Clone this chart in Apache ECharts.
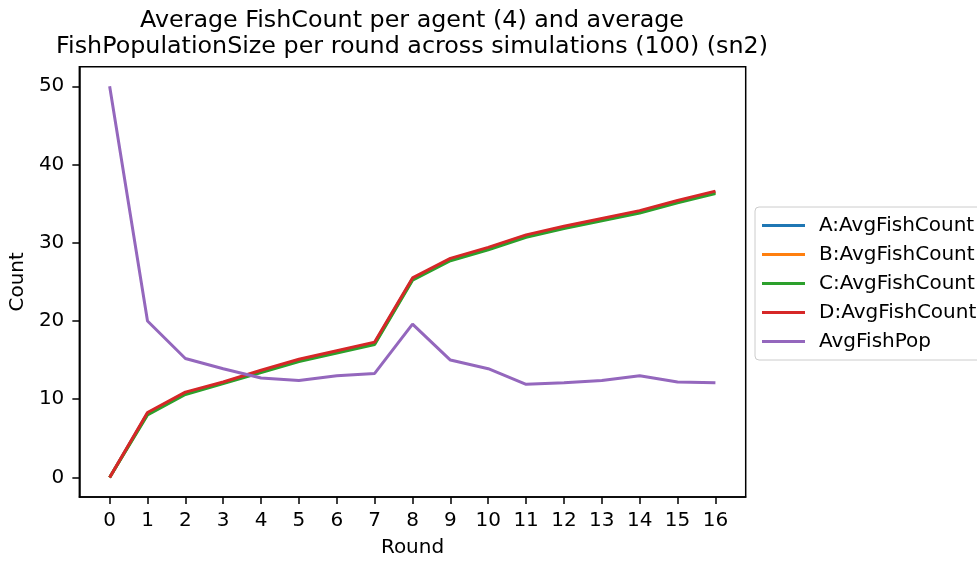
<!DOCTYPE html>
<html>
<head>
<meta charset="utf-8">
<script src="https://cdn.jsdelivr.net/npm/echarts@6/dist/echarts.min.js"></script>
<style>
  html, body { margin: 0; padding: 0; background: #fff; }
  #chart { width: 977px; height: 563px; }
</style>
</head>
<body>
<div id="chart"></div>
<script>
// Rounds 0..16
const rounds = [0, 1, 2, 3, 4, 5, 6, 7, 8, 9, 10, 11, 12, 13, 14, 15, 16];

// Average fish count per agent
const agentA = [0, 8.2, 10.8, 12.1, 13.6, 15.0, 16.1, 17.2, 25.4, 27.9, 29.3, 30.9, 32.0, 33.0, 34.0, 35.3, 36.5];
const agentB = [0, 8.1, 10.7, 12.1, 13.5, 14.9, 16.0, 17.1, 25.3, 27.8, 29.2, 30.8, 31.9, 32.9, 33.9, 35.2, 36.4];
const agentC = [0, 8.0, 10.6, 12.0, 13.4, 14.8, 15.9, 17.0, 25.2, 27.7, 29.1, 30.7, 31.8, 32.8, 33.8, 35.1, 36.3];
const agentD = [0, 8.3, 10.9, 12.2, 13.7, 15.1, 16.2, 17.3, 25.5, 28.0, 29.4, 31.0, 32.1, 33.1, 34.1, 35.4, 36.6];

// Average fish population size
const fishPop = [50, 20.0, 15.2, 13.9, 12.7, 12.4, 13.0, 13.3, 19.6, 15.0, 13.9, 11.9, 12.1, 12.4, 13.0, 12.2, 12.1];

const seriesNames = ['A:AvgFishCount', 'B:AvgFishCount', 'C:AvgFishCount', 'D:AvgFishCount', 'AvgFishPop'];
const seriesColors = ['#1f77b4', '#ff7f0e', '#2ca02c', '#d62728', '#9467bd'];
const seriesValues = [agentA, agentB, agentC, agentD, fishPop];

const yTicks = [0, 10, 20, 30, 40, 50];

const FONT = 'DejaVu Sans';

const chart = echarts.init(document.getElementById('chart'), null, { renderer: 'canvas' });

chart.setOption({
  animation: false,
  backgroundColor: '#ffffff',
  textStyle: { fontFamily: FONT },
  title: {
    text: 'Average FishCount per agent (4) and average\nFishPopulationSize per round across simulations (100) (sn2)',
    left: 407,
    textAlign: 'center',
    top: 3,
    textStyle: { fontFamily: FONT, fontSize: 23.8, fontWeight: 'normal', color: '#000', lineHeight: 26 }
  },
  legend: {
    orient: 'vertical',
    left: 755,
    top: 207,
    data: seriesNames.map(n => ({ name: n, icon: 'rect' })),
    itemWidth: 43,
    itemHeight: 3,
    itemGap: 7,
    padding: [7.5, 40, 7.5, 7],
    borderColor: '#cccccc',
    borderWidth: 1,
    borderRadius: 4,
    backgroundColor: '#ffffff',
    textStyle: { fontFamily: FONT, fontSize: 20, color: '#000', lineHeight: 22, padding: [0, 0, 0, 9] }
  },
  grid: {
    left: 78.7,
    right: 231.3,
    top: 66.7,
    bottom: 62.7,
    show: true,
    borderColor: '#000',
    borderWidth: 1.5,
    containLabel: false
  },
  xAxis: {
    type: 'value',
    min: -0.8,
    max: 16.8,
    name: 'Round',
    nameLocation: 'middle',
    nameGap: 41,
    nameTextStyle: { fontFamily: FONT, fontSize: 20, color: '#000' },
    splitLine: { show: false },
    axisLine: { show: true, onZero: false, lineStyle: { color: '#000', width: 1.5 } },
    axisTick: { show: true, length: 7, customValues: rounds, lineStyle: { color: '#000', width: 1.5 } },
    axisLabel: { customValues: rounds, margin: 14, fontFamily: FONT, fontSize: 20, color: '#000' }
  },
  yAxis: {
    type: 'value',
    min: -2.5,
    max: 52.5,
    name: 'Count',
    nameLocation: 'middle',
    nameGap: 45.5,
    nameTextStyle: { fontFamily: FONT, fontSize: 20, color: '#000' },
    splitLine: { show: false },
    axisLine: { show: true, onZero: false, lineStyle: { color: '#000', width: 1.5 } },
    axisTick: { show: true, length: 7, customValues: yTicks, lineStyle: { color: '#000', width: 1.5 } },
    axisLabel: { customValues: yTicks, margin: 15, fontFamily: FONT, fontSize: 20, color: '#000' }
  },
  series: seriesNames.map((name, i) => ({
    name: name,
    type: 'line',
    data: rounds.map((r, j) => [r, seriesValues[i][j]]),
    symbol: 'none',
    showSymbol: false,
    color: seriesColors[i],
    lineStyle: { color: seriesColors[i], width: 3 },
    itemStyle: { color: seriesColors[i] },
    z: 2 + i
  }))
});
</script>
</body>
</html>
